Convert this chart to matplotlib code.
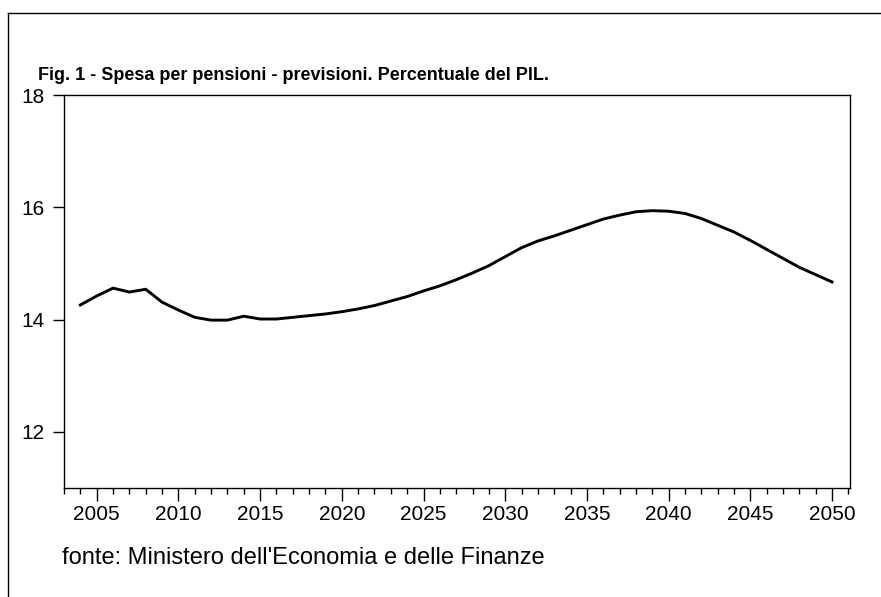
import matplotlib
matplotlib.use("Agg")
import matplotlib.pyplot as plt
from matplotlib.ticker import MultipleLocator
from matplotlib.lines import Line2D

# Spesa per pensioni in % del PIL, previsioni 2004-2050
years = list(range(2004, 2051))
spesa = [
    14.26, 14.42, 14.56, 14.49, 14.54, 14.31, 14.17, 14.04, 13.99, 13.99,  # 2004-2013
    14.06, 14.01, 14.01, 14.04, 14.07, 14.10, 14.14, 14.19, 14.25, 14.33,  # 2014-2023
    14.41, 14.51, 14.60, 14.71, 14.83, 14.96, 15.12, 15.28, 15.40, 15.49,  # 2024-2033
    15.59, 15.69, 15.79, 15.86, 15.92, 15.94, 15.93, 15.89, 15.80, 15.68,  # 2034-2043
    15.56, 15.41, 15.25, 15.09, 14.93, 14.80, 14.67,                       # 2044-2050
]
y_ticks = [12, 14, 16, 18]
x_major = list(range(2005, 2051, 5))

title = "Fig. 1 - Spesa per pensioni - previsioni. Percentuale del PIL."
source = "fonte: Ministero dell'Economia e delle Finanze"

plt.rcParams['font.family'] = ['Liberation Sans', 'DejaVu Sans']

W, H = 881, 597
fig = plt.figure(figsize=(W / 100, H / 100), dpi=100)

# outer frame (top and left edges)
fig.add_artist(Line2D([8 / W, 8 / W], [0, 1 - 13 / H], transform=fig.transFigure,
                      color='black', lw=1))
fig.add_artist(Line2D([8 / W, 1], [1 - 13 / H, 1 - 13 / H], transform=fig.transFigure,
                      color='black', lw=1))

ax = fig.add_axes([64 / W, 1 - 488 / H, (850 - 64) / W, (488 - 95) / H])
ax.plot(years, spesa, color='black', lw=2.1, solid_joinstyle='round')

ax.set_xlim(2003, 2051.1)
ax.set_ylim(11, 18)
ax.set_yticks(y_ticks)
ax.set_xticks(x_major)
ax.xaxis.set_minor_locator(MultipleLocator(1))

for s in ax.spines.values():
    s.set_linewidth(1)
ax.tick_params(axis='y', direction='out', length=8, width=1, pad=6, labelsize=15)
ax.tick_params(axis='x', which='major', direction='out', length=9, width=1, pad=3,
               labelsize=15)
ax.tick_params(axis='x', which='minor', direction='out', length=4.5, width=1)

fig.text(38 / W, 1 - 75 / H, title, fontsize=13, fontweight='bold',
         ha='left', va='center')
fig.text(62 / W, 1 - 558 / H, source, fontsize=17, ha='left', va='center')

fig.savefig("out.png", dpi=100)
